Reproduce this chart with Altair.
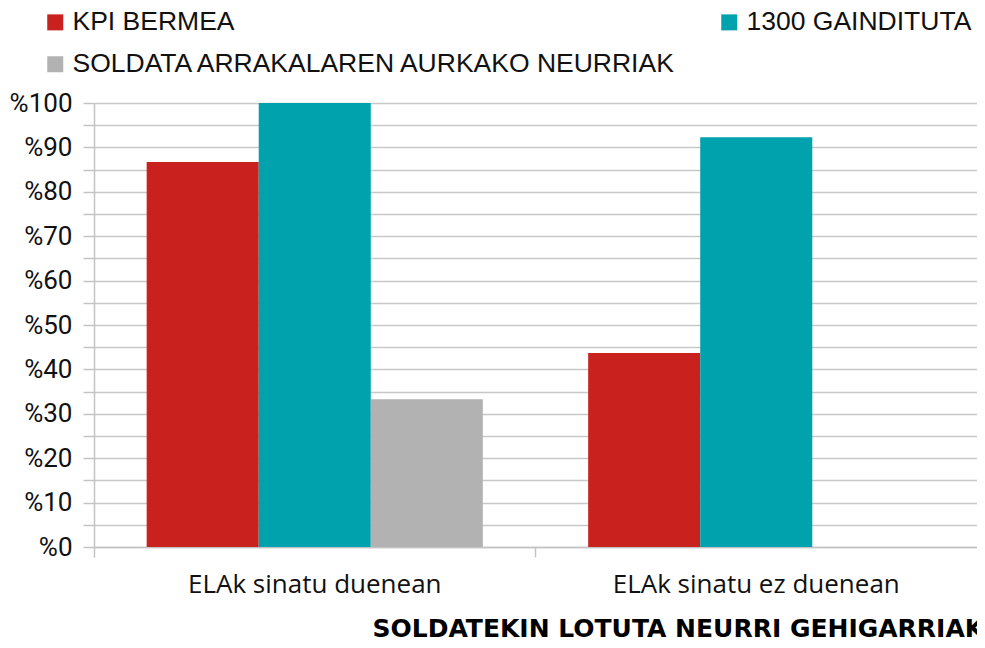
import altair as alt
import pandas as pd

categories = ["ELAk sinatu duenean", "ELAk sinatu ez duenean"]
series = ["KPI BERMEA", "1300 GAINDITUTA", "SOLDATA ARRAKALAREN AURKAKO NEURRIAK"]
colors = ["#C9211E", "#00A2AE", "#B2B2B2"]
kpi_bermea = [86.7, 43.7]
gainditua_1300 = [100.0, 92.3]
soldata_arrakala = [33.3, None]

rows = []
for i, c in enumerate(categories):
    for s, vals in zip(series, [kpi_bermea, gainditua_1300, soldata_arrakala]):
        if vals[i] is not None:
            rows.append({"cat": c, "series": s, "value": vals[i]})
df = pd.DataFrame(rows)

FONT = "Liberation Sans"

chart = alt.Chart(df).mark_bar().encode(
    x=alt.X("cat:N", sort=categories,
            scale=alt.Scale(paddingInner=0, paddingOuter=0),
            axis=alt.Axis(title="SOLDATEKIN LOTUTA NEURRI GEHIGARRIAK",
                          labelAngle=0, labelFont="Open Sans", labelFontSize=26,
                          labelColor="#111", labelPadding=14, labelLimit=0,
                          tickSize=10, tickColor="#c4c4c4", tickWidth=1.5,
                          bandPosition=0, domainColor="#c4c4c4", domainWidth=1.5,
                          titleFont="DejaVu Sans", titleFontSize=25, titleFontWeight="bold",
                          titleColor="#000", titleAlign="left", titleBaseline="alphabetic",
                          titleX=278, titleY=89, grid=False)),
    xOffset=alt.XOffset("series:N", sort=series,
                        scale=alt.Scale(paddingInner=0, paddingOuter=0.47)),
    y=alt.Y("value:Q", scale=alt.Scale(domain=[0, 100], nice=False),
            axis=alt.Axis(title=None, values=list(range(0, 101, 5)),
                          labelExpr="datum.value % 10 == 0 ? '%' + datum.value : ''",
                          labelFont="Roboto", labelFontSize=26, labelColor="#111",
                          labelPadding=11, tickSize=11, tickColor="#c4c4c4", tickWidth=1.5,
                          domainColor="#c4c4c4", domainWidth=1.5,
                          gridColor="#c8c8c8", gridWidth=1.5)),
    color=alt.Color("series:N", sort=series,
                    scale=alt.Scale(domain=series, range=colors),
                    legend=alt.Legend(title=None, orient="none", direction="horizontal",
                                      legendX=-52, legendY=-94,
                                      columns=2, columnPadding=37, rowPadding=15,
                                      symbolType="square", symbolSize=256,
                                      symbolStrokeWidth=0, labelOffset=4,
                                      labelFont=FONT, labelFontSize=26.5,
                                      labelColor="#111", labelLimit=0, padding=0)),
).properties(
    width=883, height=444,
    autosize=alt.AutoSizeParams(type="none"),
    padding={"left": 86, "top": 95, "right": 0, "bottom": 90},
).configure_view(stroke=None)

chart.save("out.html", embed_options={"renderer": "svg", "actions": False})
